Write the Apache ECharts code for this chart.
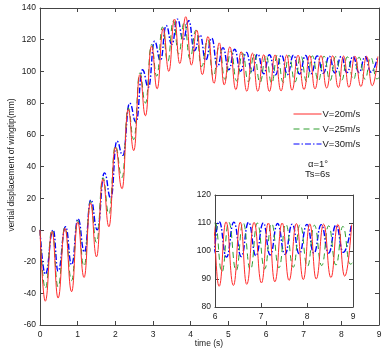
<!DOCTYPE html>
<html>
<head>
<meta charset="utf-8">
<script src="https://cdn.jsdelivr.net/npm/echarts@6/dist/echarts.min.js"></script>
<style>
  html, body { margin: 0; padding: 0; background: #fff; }
  #chart-container { width: 386px; height: 350px; }
</style>
</head>
<body>
<div id="chart-container"></div>
<script>
// extrema (time in s, displacement in mm)
var seriesNames = ['V=20m/s', 'V=25m/s', 'V=30m/s'];

var timeV20 = [0, 0.14, 0.32, 0.48, 0.66, 0.84, 1.0, 1.17, 1.34, 1.5, 1.67, 1.83, 2.0, 2.18, 2.34, 2.49,
  2.65, 2.8, 2.96, 3.11, 3.27, 3.42, 3.57, 3.71, 3.87, 4.02, 4.16, 4.31, 4.46, 4.62, 4.76, 4.89,
  5.04, 5.2, 5.34, 5.49, 5.64, 5.78, 5.94, 6.09, 6.24, 6.40, 6.55, 6.69, 6.85, 7.01, 7.16, 7.30,
  7.46, 7.61, 7.77, 7.92, 8.06, 8.2, 8.36, 8.52, 8.67, 8.82, 8.97];
var dispV20 = [0, -45, -1, -43, 1, -39, 5, -30, 17, -17, 32, 2, 52, 26, 76, 50,
  98, 72, 116, 89, 127, 100, 133, 105, 134.5, 104, 126, 98, 122, 92.5, 118, 91.5,
  115.5, 88.5, 112.5, 87.5, 111.5, 87.5, 110.5, 87.4, 110.4, 87.7, 110.3, 88.1, 110.2, 88.6, 110, 89,
  110, 89.5, 109.8, 89.8, 109.7, 90, 109.6, 90.5, 109.5, 91, 109.4];

var timeV25 = [0, 0.14, 0.32, 0.48, 0.66, 0.84, 1.0, 1.17, 1.34, 1.5, 1.67, 1.83, 2.0, 2.18, 2.34, 2.49,
  2.65, 2.8, 2.96, 3.1, 3.25, 3.39, 3.54, 3.68, 3.83, 3.98, 4.14, 4.29, 4.45, 4.6, 4.76, 4.91,
  5.07, 5.22, 5.38, 5.53, 5.69, 5.84, 6.0, 6.15, 6.3, 6.46, 6.61, 6.77, 6.92, 7.08, 7.23, 7.39,
  7.54, 7.7, 7.85, 8.01, 8.16, 8.32, 8.47, 8.63, 8.78, 8.94, 9.0];
var dispV25 = [0, -37, 0, -36, 1.5, -32, 6, -23, 18, -8, 33, 10, 53, 33, 77, 57,
  99, 80, 117, 97, 128, 106, 132, 111, 131, 108, 126, 103, 120, 97, 116, 95,
  113, 94, 111.5, 93.5, 110.8, 93, 110.5, 92.5, 110.3, 93, 110.2, 93.3, 110, 93.6, 109.8, 94,
  109.6, 94.2, 109.4, 94.5, 109.2, 94.8, 109, 95, 108.8, 95.3, 96];

var timeV30 = [0, 0.14, 0.35, 0.48, 0.68, 0.84, 1.01, 1.18, 1.35, 1.52, 1.71, 1.88, 2.04, 2.2, 2.38, 2.55,
  2.72, 2.88, 3.04, 3.2, 3.35, 3.5, 3.65, 3.8, 3.95, 4.1, 4.25, 4.4, 4.56, 4.71, 4.86, 5.01,
  5.17, 5.32, 5.48, 5.63, 5.78, 5.94, 6.09, 6.25, 6.41, 6.57, 6.73, 6.89, 7.05, 7.2, 7.36, 7.52,
  7.68, 7.83, 8.0, 8.15, 8.31, 8.47, 8.63, 8.79, 8.96];
var dispV30 = [0, -28, 0, -26, 2, -22, 7, -14, 19, 0, 36, 20, 56, 47, 80, 68,
  101, 90, 119, 107, 129, 117, 133, 120, 132, 113, 123, 107, 121, 103, 115, 101,
  114, 100, 112, 99.5, 111, 98.5, 110.5, 97.8, 110.3, 98, 110.2, 98.3, 110, 98.6, 109.8, 98.8,
  109.6, 99, 109.5, 99.2, 109.4, 99.3, 109.2, 99.5, 109];

var yTicksMain = [-60, 140, 20];
var xTicksMain = [0, 9, 1];
var yTicksInset = [80, 120, 10];
var xTicksInset = [6, 9, 1];

var dom = document.getElementById('chart-container');
var myChart = echarts.init(dom, null, { renderer: 'canvas' });

function pairs(t, v) {
  return t.map(function (x, i) { return [x, v[i]]; });
}

var font = "'Liberation Sans', Arial, sans-serif";
var frame = '#444';
var styles = [
  { color: '#ff2b2b', width: 1, type: 'solid' },
  { color: '#2f9e2f', width: 1, type: [6, 4] },
  { color: '#0000ff', width: 1.4, type: [6, 2, 1.5, 2] }
];
var allData = [pairs(timeV20, dispV20), pairs(timeV25, dispV25), pairs(timeV30, dispV30)];

function xAx(grid, pos, r, labels) {
  return {
    type: 'value', gridIndex: grid, position: pos,
    min: r[0], max: r[1], interval: r[2],
    axisLine: { onZero: false, lineStyle: { color: frame, width: 1 } },
    axisTick: { inside: true, length: 4, lineStyle: { color: frame } },
    axisLabel: { show: labels, color: '#1a1a1a', fontSize: 8.5, fontFamily: font, margin: 5 },
    splitLine: { show: false }
  };
}
function yAx(grid, pos, r, labels) {
  return {
    type: 'value', gridIndex: grid, position: pos,
    min: r[0], max: r[1], interval: r[2],
    axisLine: { onZero: false, lineStyle: { color: frame, width: 1 } },
    axisTick: { inside: true, length: 4, lineStyle: { color: frame } },
    axisLabel: { show: labels, color: '#1a1a1a', fontSize: 8.5, fontFamily: font, margin: 4 },
    splitLine: { show: false }
  };
}

var series = [];
for (var k = 0; k < 3; k++) {
  series.push({
    name: seriesNames[k], type: 'line', xAxisIndex: 0, yAxisIndex: 0,
    data: allData[k], smooth: 0.5, smoothMonotone: 'x', symbol: 'none',
    lineStyle: styles[k], itemStyle: { color: styles[k].color }, z: 3 - k
  });
}
for (var j = 0; j < 3; j++) {
  series.push({
    name: seriesNames[j], type: 'line', xAxisIndex: 2, yAxisIndex: 2,
    data: allData[j], smooth: 0.5, smoothMonotone: 'x', symbol: 'none', clip: true,
    lineStyle: styles[j], itemStyle: { color: styles[j].color }, z: 3 - j
  });
}

var option = {
  backgroundColor: '#fff',
  animation: false,
  grid: [
    { left: 40, top: 8, right: 7, bottom: 25, show: false, outerBoundsMode: 'none', containLabel: false },
    { left: 215, top: 195, width: 138, height: 112, show: true, backgroundColor: '#fff', borderWidth: 0,
      outerBoundsMode: 'none', containLabel: false }
  ],
  xAxis: [
    xAx(0, 'bottom', xTicksMain, true),
    xAx(0, 'top', xTicksMain, false),
    xAx(1, 'bottom', xTicksInset, true),
    xAx(1, 'top', xTicksInset, false)
  ],
  yAxis: [
    yAx(0, 'left', yTicksMain, true),
    yAx(0, 'right', yTicksMain, false),
    yAx(1, 'left', yTicksInset, true),
    yAx(1, 'right', yTicksInset, false)
  ],
  legend: {
    data: seriesNames, orient: 'vertical', left: 288, top: 104,
    itemWidth: 28, itemHeight: 8, itemGap: 5,
    itemStyle: { opacity: 0 },
    lineStyle: { width: 1 },
    textStyle: { color: '#1a1a1a', fontSize: 9.5, fontFamily: font, padding: [0, 0, 0, -4] },
    backgroundColor: 'transparent'
  },
  graphic: [
    { type: 'text', x: 209, y: 344,
      style: { text: 'time (s)', fill: '#1a1a1a', fontSize: 8.5, fontFamily: font, align: 'center', verticalAlign: 'middle' } },
    { type: 'text', x: 12, y: 165, rotation: Math.PI / 2,
      style: { text: 'vertial displacement of wingtip(mm)', fill: '#1a1a1a', fontSize: 8.5, fontFamily: font, align: 'center', verticalAlign: 'middle' } },
    { type: 'text', left: 308, top: 159, style: { text: 'α=1°', fill: '#1a1a1a', fontSize: 9.5, fontFamily: font } },
    { type: 'text', left: 305, top: 169, style: { text: 'Ts=6s', fill: '#1a1a1a', fontSize: 9.5, fontFamily: font } }
  ],
  series: series
};

if (option && typeof option === 'object') {
  myChart.setOption(option);
}

window.addEventListener('resize', myChart.resize);
</script>
</body>
</html>
